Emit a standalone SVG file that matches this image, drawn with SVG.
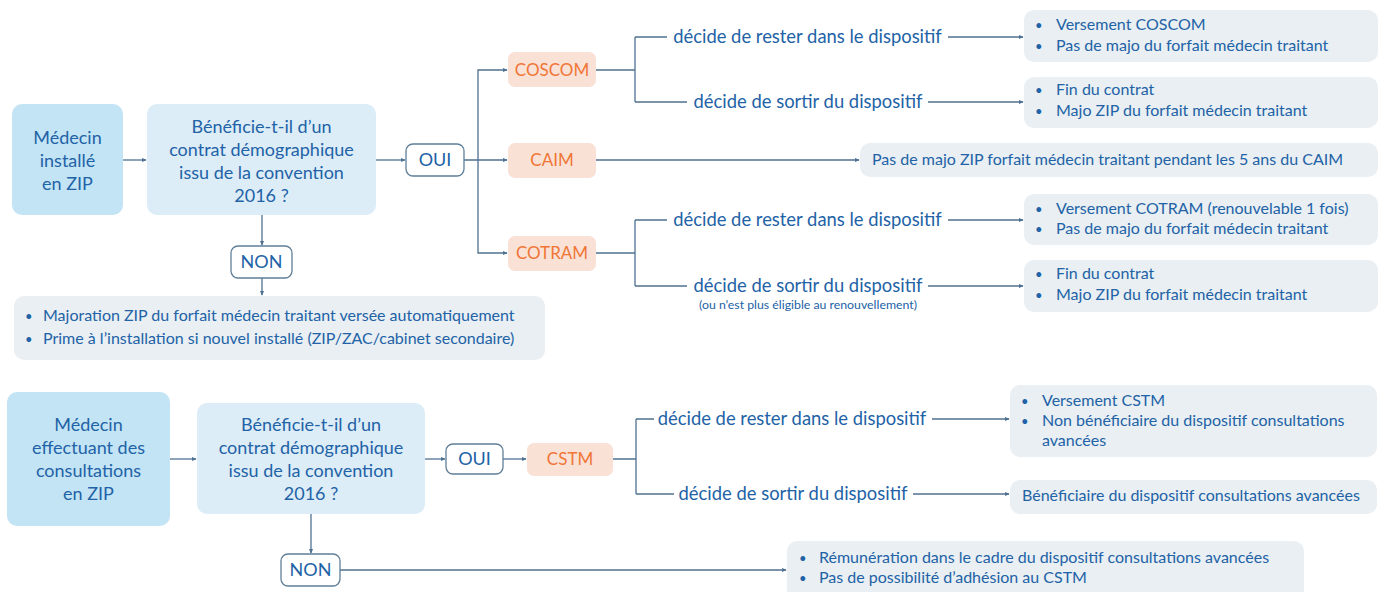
<svg xmlns="http://www.w3.org/2000/svg" width="1384" height="592" viewBox="0 0 1384 592">
<defs>
<style>
text{font-family:Lato,"Liberation Sans",sans-serif;fill:#2262a6}
.m{font-size:18px;text-anchor:middle}
.o{font-size:17px;text-anchor:middle;fill:#f07636}
.d{font-size:18.4px;text-anchor:middle}
.s{font-size:12.3px;text-anchor:middle}
.r{font-size:16px}
.b{font-size:13px}
.n1{fill:#c3e4f5}
.q{fill:#dcedf8}
.ob{fill:#ffffff;stroke:#5f7f98;stroke-width:1.3}
.c{fill:#f9e1d6}
.res{fill:#e9eff3}
.ln{fill:none;stroke:#4f7191;stroke-width:1.3}
.ar{marker-end:url(#ah)}
</style>
<marker id="ah" viewBox="0 0 8 8" refX="7" refY="4" markerWidth="5" markerHeight="5" orient="auto" markerUnits="userSpaceOnUse">
<path d="M0,0.5 L8,4 L0,7.5 Z" fill="#4f7191"/>
</marker>
</defs>
<rect width="1384" height="592" fill="#ffffff"/>

<g id="connectors">
<path class="ln ar" d="M123,160 H146"/>
<path class="ln ar" d="M376,160 H405"/>
<path class="ln ar" d="M464,160 H507"/>
<path class="ln ar" d="M478,160 V70 H507"/>
<path class="ln ar" d="M478,160 V253 H507"/>
<path class="ln" d="M596,70 H635 M635,37 V102 M635,37 H667 M635,102 H687"/>
<path class="ln ar" d="M948,37 H1023"/>
<path class="ln ar" d="M928,102 H1023"/>
<path class="ln ar" d="M596,160 H859"/>
<path class="ln" d="M596,253 H635 M635,220 V286 M635,220 H667 M635,286 H687"/>
<path class="ln ar" d="M948,220 H1023"/>
<path class="ln ar" d="M928,286 H1023"/>
<path class="ln ar" d="M262,215 V245"/>
<path class="ln ar" d="M262,278 V295"/>
<path class="ln ar" d="M170,459 H196"/>
<path class="ln ar" d="M425,459 H445"/>
<path class="ln ar" d="M503,459 H526"/>
<path class="ln" d="M613,459 H636 M636,419 V494 M636,419 H654 M636,494 H674"/>
<path class="ln ar" d="M932,419 H1009"/>
<path class="ln ar" d="M913,494 H1009"/>
<path class="ln ar" d="M311,514 V553"/>
<path class="ln ar" d="M340,570 H786"/>
<text class="d" x="807.5" y="43">décide de rester dans le dispositif</text>
<text class="d" x="808" y="108">décide de sortir du dispositif</text>
<text class="d" x="807.5" y="226">décide de rester dans le dispositif</text>
<text class="d" x="808" y="292">décide de sortir du dispositif</text>
<text class="s" x="808" y="309">(ou n’est plus éligible au renouvellement)</text>
<text class="d" x="792" y="425">décide de rester dans le dispositif</text>
<text class="d" x="793" y="500">décide de sortir du dispositif</text>
</g>

<g id="medecin-installe">
<rect class="n1" x="12" y="104" width="111" height="111" rx="10"/>
<text class="m" x="67.5" y="144">Médecin</text>
<text class="m" x="67.5" y="167">installé</text>
<text class="m" x="67.5" y="190">en ZIP</text>
</g>
<g id="question-1">
<rect class="q" x="147" y="104" width="229" height="111" rx="10"/>
<text class="m" x="261.5" y="133">Bénéficie-t-il d’un</text>
<text class="m" x="261.5" y="156">contrat démographique</text>
<text class="m" x="261.5" y="179">issu de la convention</text>
<text class="m" x="261.5" y="202">2016 ?</text>
</g>
<g id="oui-1">
<rect class="ob" x="406" y="144" width="58" height="32" rx="7"/>
<text class="m" x="435" y="166">OUI</text>
</g>
<g id="coscom">
<rect class="c" x="508" y="52" width="88" height="35" rx="7"/>
<text class="o" x="552" y="76">COSCOM</text>
</g>
<g id="caim">
<rect class="c" x="508" y="143" width="88" height="35" rx="7"/>
<text class="o" x="552" y="166">CAIM</text>
</g>
<g id="cotram">
<rect class="c" x="508" y="236" width="88" height="35" rx="7"/>
<text class="o" x="552" y="259">COTRAM</text>
</g>
<g id="res-coscom-rester">
<rect class="res" x="1024" y="10" width="354" height="52" rx="10"/>
<text class="b" x="1035" y="30">•</text><text class="r" x="1056" y="30">Versement COSCOM</text>
<text class="b" x="1035" y="51">•</text><text class="r" x="1056" y="51">Pas de majo du forfait médecin traitant</text>
</g>
<g id="res-coscom-sortir">
<rect class="res" x="1024" y="77" width="354" height="51" rx="10"/>
<text class="b" x="1035" y="95">•</text><text class="r" x="1056" y="95">Fin du contrat</text>
<text class="b" x="1035" y="116">•</text><text class="r" x="1056" y="116">Majo ZIP du forfait médecin traitant</text>
</g>
<g id="res-caim">
<rect class="res" x="860" y="143" width="518" height="34" rx="10"/>
<text class="r" x="872" y="165">Pas de majo ZIP forfait médecin traitant pendant les 5 ans du CAIM</text>
</g>
<g id="res-cotram-rester">
<rect class="res" x="1024" y="194" width="354" height="51" rx="10"/>
<text class="b" x="1035" y="214">•</text><text class="r" x="1056" y="214">Versement COTRAM (renouvelable 1 fois)</text>
<text class="b" x="1035" y="234">•</text><text class="r" x="1056" y="234">Pas de majo du forfait médecin traitant</text>
</g>
<g id="res-cotram-sortir">
<rect class="res" x="1024" y="260" width="354" height="52" rx="10"/>
<text class="b" x="1035" y="279">•</text><text class="r" x="1056" y="279">Fin du contrat</text>
<text class="b" x="1035" y="300">•</text><text class="r" x="1056" y="300">Majo ZIP du forfait médecin traitant</text>
</g>
<g id="non-1">
<rect class="ob" x="231" y="246" width="61" height="32" rx="7"/>
<text class="m" x="261.5" y="268">NON</text>
</g>
<g id="res-non-1">
<rect class="res" x="14" y="296" width="531" height="64" rx="10"/>
<text class="b" x="25" y="321">•</text><text class="r" x="43" y="321">Majoration ZIP du forfait médecin traitant versée automatiquement</text>
<text class="b" x="25" y="344">•</text><text class="r" x="43" y="344">Prime à l’installation si nouvel installé (ZIP/ZAC/cabinet secondaire)</text>
</g>

<g id="medecin-consultations">
<rect class="n1" x="7" y="392" width="163" height="134" rx="10"/>
<text class="m" x="88.5" y="431">Médecin</text>
<text class="m" x="88.5" y="454">effectuant des</text>
<text class="m" x="88.5" y="477">consultations</text>
<text class="m" x="88.5" y="500">en ZIP</text>
</g>
<g id="question-2">
<rect class="q" x="197" y="403" width="228" height="111" rx="10"/>
<text class="m" x="311" y="431">Bénéficie-t-il d’un</text>
<text class="m" x="311" y="454">contrat démographique</text>
<text class="m" x="311" y="477">issu de la convention</text>
<text class="m" x="311" y="500">2016 ?</text>
</g>
<g id="oui-2">
<rect class="ob" x="446" y="444" width="57" height="30" rx="7"/>
<text class="m" x="474.5" y="465">OUI</text>
</g>
<g id="cstm">
<rect class="c" x="527" y="443" width="86" height="33" rx="7"/>
<text class="o" x="570" y="465">CSTM</text>
</g>
<g id="res-cstm-rester">
<rect class="res" x="1010" y="385" width="367" height="72" rx="10"/>
<text class="b" x="1021" y="406">•</text><text class="r" x="1042" y="406">Versement CSTM</text>
<text class="b" x="1021" y="426">•</text><text class="r" x="1042" y="426">Non bénéficiaire du dispositif consultations</text>
<text class="r" x="1042" y="446">avancées</text>
</g>
<g id="res-cstm-sortir">
<rect class="res" x="1010" y="480" width="367" height="34" rx="10"/>
<text class="r" x="1022" y="501">Bénéficiaire du dispositif consultations avancées</text>
</g>
<g id="non-2">
<rect class="ob" x="281" y="554" width="59" height="32" rx="7"/>
<text class="m" x="310.5" y="576">NON</text>
</g>
<g id="res-non-2">
<rect class="res" x="787" y="541" width="517" height="60" rx="10"/>
<text class="b" x="799" y="563">•</text><text class="r" x="819" y="563">Rémunération dans le cadre du dispositif consultations avancées</text>
<text class="b" x="799" y="583">•</text><text class="r" x="819" y="583">Pas de possibilité d’adhésion au CSTM</text>
</g>
</svg>
